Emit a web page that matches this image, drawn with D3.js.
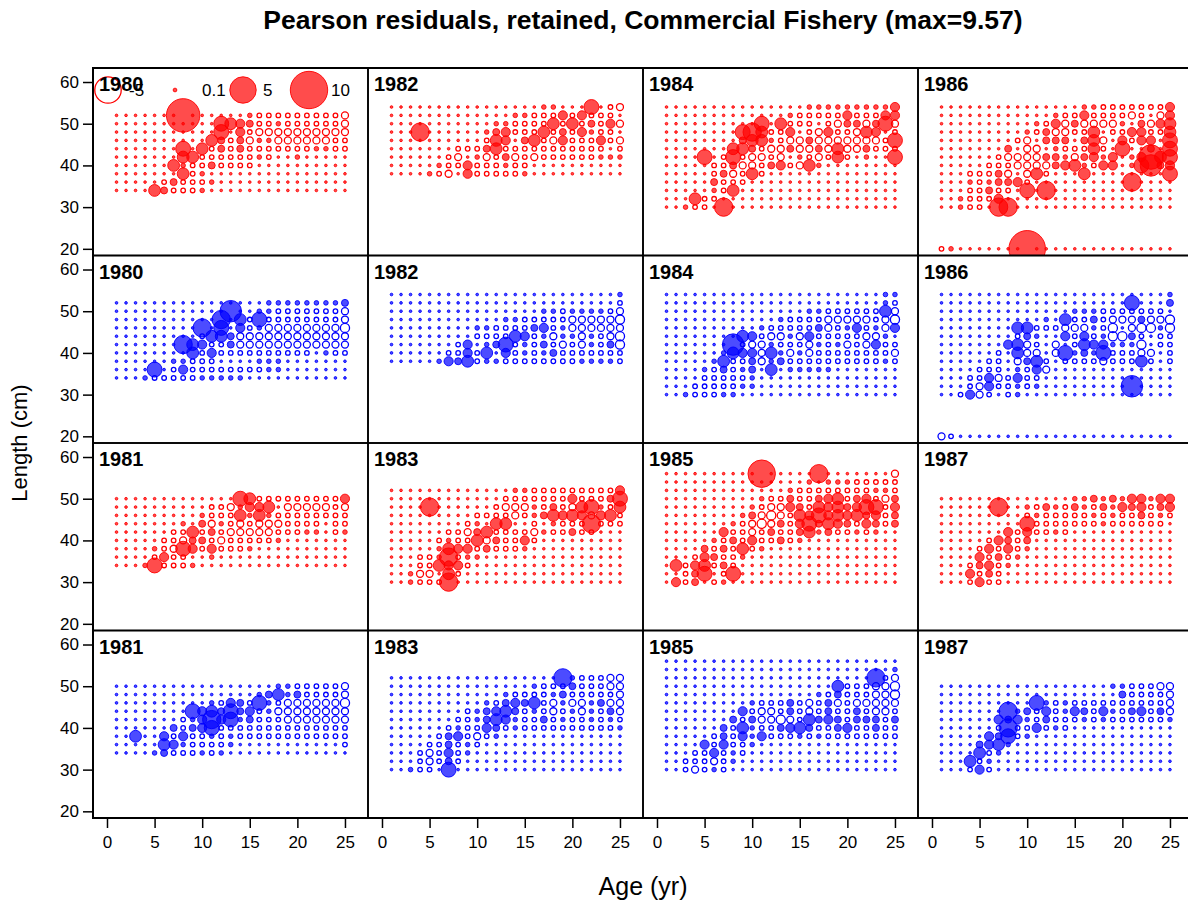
<!DOCTYPE html>
<html><head><meta charset="utf-8">
<script src="https://cdn.jsdelivr.net/npm/d3@7"></script>
<style>
body{margin:0;background:#fff}
svg{display:block}
text{font-family:"Liberation Sans",Arial,Helvetica,sans-serif;fill:#000}
</style>
</head><body>
<svg id="chart" width="1188" height="907"></svg>
<script>
// ---------------- DATA ----------------
// Ages (columns of every residual grid) and axis ticks
const ages = [1,2,3,4,5,6,7,8,9,10,11,12,13,14,15,16,17,18,19,20,21,22,23,24,25];
const xTicks = [0,5,10,15,20,25];
const yTicks = [20,30,40,50,60];
// residual codes (one char per age, one string per 2-cm length bin, top bin first)
// '.' tiny, o/O/Q negative (open), * + # 1..9 positive (filled)
const codeValue = {'.':0.05,'o':-0.15,'O':-0.35,'Q':-0.6,'q':-1.0,'*':0.15,'+':0.35,'#':0.6,
  '1':1.0,'2':1.6,'3':2.4,'4':3.3,'5':4.3,'6':5.4,'7':6.6,'8':8.0,'9':9.57};
const legendValues = [-5, 0.1, 5, 10];
const legendLabels = ["-5", "0.1", "5", "10"];

const f1980 = {year:1980, top:52, rows:[
'.......8......*oooooooooO',
'...........21#+oo*ooooooO',
'...........2.#oOOOOOOOOOO',
'..........1+o+O**OOOOOOoo',
'.......2.1o+o+ooooooo**oo',
'.......11oooooo*o..*.....',
'......1*oo+oooo..........',
'.......1o*...............',
'.....o+ooo*..............',
'....1+ooo*...............']};
const f1982 = {year:1982, top:54, rows:[
'................**...2.oO',
'.............**ooo#o#ooo.',
'...........**oooo1o1o+o#O',
'...3......*+#ooo1o+o#*oo.',
'..........o1#.+1oO#ooo#oO',
'.......ooo+1ooooooooooo.o',
'......oO.*Oo+OoOoooooo***',
'.....*oo#ooo*oo..........',
'....*oO.#ooooo*..........']};
const f1984 = {year:1984, top:54, rows:[
'...............*********#',
'.............*ooooo#ooo##',
'..........2.1ooo.oO++O+2O',
'........231oo#.oO#ooO1#.o',
'........+11*oOO+OOOOOOOo2',
'.......11+oOO+OO+O1OO+ooo',
'....2.o2oOOoO.*oOo1o.*..2',
'.....oo+OOo+#oO1*........',
'.....o+Oo1o..............',
'.....+ooo................',
'.....*o1.................',
'...1oo...................',
'..*oo.3..................']};
const f1986 = {year:1986, top:54, rows:[
'...............**ooooooo#',
'............*oo#ooooOo.O#',
'..........*o#O+OOOO*.+O#1',
'.........*o+OOoo1.oo##oo1',
'........oO.+++.+1O.#o##.2',
'.......+.OO.*ooo1o.2..+.2',
'......oOOOO++*O+#*#.*#512',
'.....oooOOOO+#1*o##.*24+#',
'...ooo+O.O1o...1........2',
'...*o*++#o..........3....',
'...oo+oo.2.3.............',
'..*ooo#..................',
'..*oo.33.................',
'','','','',
'o*.......9...............']};
const m1980 = {year:1980, top:52, rows:[
'................********+',
'............4..**oooooooO',
'...........3.1o2ooooooooO',
'.........3.2.#o*OOOOOOOOQ',
'.........o11+OOOOOOOOOOOO',
'.......31#oo+OOOOOOOOOOOO',
'........1o#oooooooooo.*oo',
'......**ooo....***.......',
'....2.o#oooooooo**.......',
'...*ooooo*****...........']};
const m1982 = {year:1982, top:54, rows:[
'........................*',
'........................o',
'................**o****oO',
'............**oooooOOOOOQ',
'.........**oooo+#o*OOOOOO',
'.........oooo1#o*O**O*oOQ',
'.......o#.*+2o*o+oOoO*o+Q',
'......oo#o1.#o*o*+ooooooo',
'.....*#+1o**oooooooo****o']};
const m1984 = {year:1984, top:54, rows:[
'.......................**',
'.......................*o',
'...............**oooooo1O',
'............*ooooOOOOOoOQ',
'..........*ooooo+Oo*#o*O#',
'........1#oOO*O#oooooOO*.',
'.......4oOO*oooO*o*OoO#oo',
'......*1##O1*O*OooooooooO',
'.....*1oo+O*+oooooooooo*o',
'....*o+o*+.1.*****.......',
'....ooooo*...............',
'...ooooo**...............',
'..*ooo**.................']};
const m1986 = {year:1986, top:54, rows:[
'........................*',
'....................2...+',
'..............***ooooooo.',
'...........*.1oo+oOOO+OOQ',
'........11oooOOO*oQ.OQQ*Q',
'........o+*..#o#o*QQ+o.oo',
'.......#1Oo.O.o1##***Q.oo',
'......o.1OO.O2*+*2oooOO.o',
'.....oo.O+1o.ooooOooo1o.o',
'....ooo.*o#O.............',
'...oo#Oo#oo..............',
'...oO#oo*o*.........4....',
'..o#Oo.o*................',
'','','','',
'Oo.......................']};
const f1981 = {year:1981, top:50, rows:[
'.............21ooooooooo#',
'..........ooO*##1.OOOOOoO',
'.........*ooo1*1*oooooooo',
'.......*.+O*oOoOOOoooo.oo',
'......oo1o+oOOOOOooo**.o*',
'.....ooO++oOooooo*.......',
'....*oO2#o#ooo*..........',
'....o#oo..*..............',
'...*2ooo*................']};
const f1983 = {year:1983, top:52, rows:[
'.............**ooooooooo#',
'............ooooooo#ooo+2',
'....3......oOOO*o+oO12*o1',
'.........ooooOo*+1#1#O#1o',
'........o*.11..o.*ooo3ooo',
'......ooO+1ooooO*oo+oo...',
'.....o*oo1O+oo#o.........',
'.....*1##o+ooo*..........',
'...oo*3o**...............',
'...oo1##o................',
'..*OO.1o.................',
'..*ooo3..................']};
const f1985 = {year:1985, top:56, rows:[
'..........6.....3.......O',
'...............*.***ooooo',
'.............*oooooooo**o',
'..........*oo+oo+#1o+#oO+',
'.........*oOO#+o1#1+#22o#',
'........*+OQOo1#2#1#1+#o+',
'.......*oOQO+o#2+1#+o#+o+',
'......#ooOo+oo+1*+oo*o*..',
'.....*o+o#oo+o*..........',
'....+o+o1o*..............',
'...o#+oo*................',
'.1o#1o+o.................',
'..o+2.o2.................',
'.#o+.o*..................']};
const f1987 = {year:1987, top:50, rows:[
'..............**+*+*##*##',
'......3..*o+*o+*o+*#+#o+#',
'.........o*ooooo*o*oo+o*o',
'.........2ooooooo*oooooo.',
'.......#o#oo*o...........',
'.....o#+o+...............',
'....o#o#o*...............',
'....#o+o*................',
'...o+#o*.................',
'...#o+o..................',
'...o#oo..................']};
const m1981 = {year:1981, top:50, rows:[
'.................**oooooO',
'...............*+1*+ooooO',
'..........*o#+o2*oOOOOOOQ',
'........2#1+2+#o*OOOOOOOO',
'.......o*#3#2*+oooOOOOOOO',
'......+o+#2oooooooooooooo',
'..1..#o#oo*o*oooooooooooo',
'.....1#*oooo*...........o',
'....*+ooo*o*.............']};
const m1983 = {year:1983, top:52, rows:[
'..................3*oooOO',
'...............*ooo+oooOO',
'............*oooo*+oooooO',
'..........*o+#+1oO*OO*+OO',
'........o*+#1+o*oOo*O*o+O',
'.......oo*+1#*oo+o*oo*o*o',
'......o*oo#+o*oooooooooo*',
'.....o+#oOo*.............',
'....oo+o*o...............',
'...oOo#o*................',
'...oOo+o.................',
'..*oo.2..................']};
const m1985 = {year:1985, top:56, rows:[
'.........................',
'........................*',
'......................3oO',
'..................1oooOOQ',
'................*o+oooOOQ',
'.........*ooo+oOo+OoOOOOO',
'........#oOOo+oOo+oo+oOOo',
'.......+o+OOQOo1+#+o+++o+',
'......+o1*oo+#1+oo+#oo+oo',
'.....o+o#*#ooo*o*oooooooo',
'....#o#oo*...............',
'...oo#o*o................',
'..oooOo*.................',
'..oOo*o..................']};
const m1987 = {year:1987, top:50, rows:[
'..................**oooOO',
'...................+ooooO',
'..........2*o*ooooooooooO',
'.......3*+o#o*#+o#*o+#o+O',
'......#+#*o+ooo*o*oooooo*',
'......o3oo#o*o...........',
'.....#+2o*...............',
'....+#1*.................',
'....1o*..................',
'...1o*...................',
'...o#o...................']};

// panel layout (rows of the trellis, top to bottom) and colours
const panelGrid = [
  [f1980, f1982, f1984, f1986],
  [m1980, m1982, m1984, m1986],
  [f1981, f1983, f1985, f1987],
  [m1981, m1983, m1985, m1987]];
const rowColour = ["red","blue","red","blue"];
const colours = {red:{stroke:"#ff0000", fill:"rgba(255,0,0,0.7)"}, blue:{stroke:"#0000ff", fill:"rgba(0,0,255,0.7)"}};

const titleText = "Pearson residuals, retained, Commercial Fishery (max=9.57)";

// ---------------- DRAW ----------------
const svg = d3.select("#chart");
const L0 = 93, T0 = 68, PW = 275, PH = 187.5;
const x = d3.scaleLinear().domain([-1.47, 27.42]).range([0, PW]);
const y = d3.scaleLinear().domain([63.36, 18.4]).range([0, PH]);
const rScale = d3.scaleSqrt().domain([0, 10]).range([0, 18.7]);

svg.append("text").attr("x", 643).attr("y", 29).attr("text-anchor","middle")
  .attr("font-size", 26.5).attr("font-weight","bold").text(titleText);

const defs = svg.append("defs");

panelGrid.forEach((row, ri) => {
  row.forEach((p, ci) => {
    const px = L0 + ci*PW, py = T0 + ri*PH;
    const col = colours[rowColour[ri]];
    const cid = `clip${ri}_${ci}`;
    defs.append("clipPath").attr("id", cid).append("rect").attr("width", PW).attr("height", PH);
    const g = svg.append("g").attr("transform", `translate(${px},${py})`);
    const pts = [];
    p.rows.forEach((s, k) => {
      const len = p.top - 2*k;
      for (let j = 0; j < s.length; j++) {
        const ch = s[j];
        if (ch === ' ' || !(ch in codeValue)) continue;
        pts.push({age: ages[j], len, z: codeValue[ch]});
      }
    });
    const pg = g.append("g").attr("clip-path", `url(#${cid})`);
    pg.selectAll("circle").data(pts).join("circle")
      .attr("cx", d => x(d.age)).attr("cy", d => y(d.len))
      .attr("r", d => rScale(Math.abs(d.z)))
      .attr("fill", d => d.z > 0 ? col.fill : "none")
      .attr("stroke", col.stroke)
      .attr("stroke-width", d => d.z > 0 ? 0.9 : 1.3);

    // legend in first panel
    if (ri === 0 && ci === 0) {
      const lx = [15, 82, 150, 216], tx = [36, 109, 170, 238];
      const lg = g.append("g");
      legendValues.forEach((v, i) => {
        lg.append("circle").attr("cx", lx[i]).attr("cy", 22).attr("r", rScale(Math.abs(v)))
          .attr("fill", v > 0 ? col.fill : "none").attr("stroke", col.stroke)
          .attr("stroke-width", v > 0 ? 0.9 : 1.3);
        lg.append("text").attr("x", tx[i]).attr("y", 22).attr("dy","0.35em")
          .attr("font-size", 17).text(legendLabels[i]);
      });
    }
    g.append("rect").attr("width", PW).attr("height", PH).attr("fill","none")
      .attr("stroke","#000").attr("stroke-width",1.6);
    g.append("text").attr("x", 6).attr("y", 23).attr("font-size", 20)
      .attr("font-weight","bold").text(p.year);

    // y axis on left column
    if (ci === 0) {
      const ya = g.append("g").call(d3.axisLeft(y).tickValues(yTicks).tickSize(10).tickPadding(4));
      ya.select(".domain").remove();
      ya.selectAll("line").attr("stroke","#000").attr("stroke-width",1.5);
      ya.selectAll("text").attr("font-size",17).attr("font-family",'"Liberation Sans",Arial,sans-serif').attr("fill","#000");
    }
    if (ri === 3) {
      const xa = g.append("g").attr("transform", `translate(0,${PH})`)
        .call(d3.axisBottom(x).tickValues(xTicks).tickSize(10).tickPadding(8));
      xa.select(".domain").remove();
      xa.selectAll("line").attr("stroke","#000").attr("stroke-width",1.5);
      xa.selectAll("text").attr("font-size",17).attr("font-family",'"Liberation Sans",Arial,sans-serif').attr("fill","#000");
    }
  });
});

svg.append("rect").attr("x", L0).attr("y", T0).attr("width", 4*PW).attr("height", 4*PH)
  .attr("fill","none").attr("stroke","#000").attr("stroke-width",2);

svg.append("text").attr("transform", `translate(27,${T0+2*PH}) rotate(-90)`)
  .attr("text-anchor","middle").attr("font-size",22).text("Length (cm)");
svg.append("text").attr("x", L0+2*PW).attr("y", 895).attr("text-anchor","middle")
  .attr("font-size",25).text("Age (yr)");
</script>
</body></html>
